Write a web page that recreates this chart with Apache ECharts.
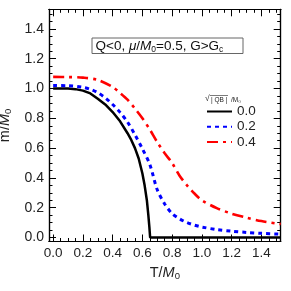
<!DOCTYPE html>
<html>
<head>
<meta charset="utf-8">
<script src="https://cdn.jsdelivr.net/npm/echarts@6/dist/echarts.min.js"></script>
<style>html,body{margin:0;padding:0;background:#fff}#c{width:291px;height:291px}</style>
</head>
<body>
<div id="c"></div>
<script>
// ---- data ----
const seriesNames = ['0.0', '0.2', '0.4'];
const blackT = [0, 0.1, 0.15, 0.2, 0.25, 0.3, 0.35, 0.4, 0.45, 0.5, 0.525, 0.55, 0.575, 0.6, 0.615, 0.63, 0.64, 0.647, 0.652, 0.7, 1.0, 1.53];
const blackM = [1.0, 1.0, 0.996, 0.986, 0.967, 0.932, 0.893, 0.842, 0.78, 0.70, 0.655, 0.6, 0.53, 0.43, 0.35, 0.25, 0.15, 0.07, 0, 0, 0, 0];
const blueT = [0, 0.1, 0.2, 0.25, 0.3, 0.35, 0.4, 0.45, 0.5, 0.55, 0.6, 0.65, 0.7, 0.75, 0.8, 0.85, 0.9, 0.95, 1.0, 1.1, 1.2, 1.3, 1.4, 1.53];
const blueM = [1.02, 1.019, 1.008, 0.995, 0.972, 0.938, 0.893, 0.84, 0.775, 0.69, 0.595, 0.49, 0.32, 0.225, 0.16, 0.125, 0.1, 0.083, 0.07, 0.053, 0.042, 0.034, 0.028, 0.022];
const redT = [0, 0.1, 0.2, 0.3, 0.4, 0.45, 0.5, 0.55, 0.6, 0.65, 0.7, 0.75, 0.8, 0.85, 0.9, 0.95, 1.0, 1.1, 1.2, 1.3, 1.4, 1.53];
const redM = [1.078, 1.077, 1.073, 1.058, 1.01, 0.97, 0.925, 0.865, 0.8, 0.725, 0.64, 0.565, 0.5, 0.415, 0.35, 0.295, 0.25, 0.197, 0.16, 0.133, 0.11, 0.09];
const xMajor = [0, 0.2, 0.4, 0.6, 0.8, 1.0, 1.2, 1.4];
const xMinor = [0.05, 0.1, 0.15, 0.25, 0.3, 0.35, 0.45, 0.5, 0.55, 0.65, 0.7, 0.75, 0.85, 0.9, 0.95, 1.05, 1.1, 1.15, 1.25, 1.3, 1.35, 1.45, 1.5];
const yMajor = [0, 0.2, 0.4, 0.6, 0.8, 1.0, 1.2, 1.4];
const yMinor = [0.05, 0.1, 0.15, 0.25, 0.3, 0.35, 0.45, 0.5, 0.55, 0.65, 0.7, 0.75, 0.85, 0.9, 0.95, 1.05, 1.1, 1.15, 1.25, 1.3, 1.35, 1.45, 1.5];
const annotation = '{n|Q<0, }{i|μ}{n|/}{i|M}{s|0}{n|=0.5, G>G}{s|c}';
// ---------------

const pair = (t, m) => t.map((v, i) => [v, m[i]]);
const FONT = 'Liberation Sans, Arial, sans-serif';
const XMIN = -0.028, XMAX = 1.53, YMIN = -0.027, YMAX = 1.532;

function mkX(pos, vals, len, labels, extra) {
  return Object.assign({
    type: 'value', position: pos, min: XMIN, max: XMAX,
    axisLine: {show: true, onZero: false, lineStyle: {color: '#000', width: 1.2}},
    axisTick: {show: true, inside: true, length: len, customValues: vals, lineStyle: {color: '#000', width: 1}},
    axisLabel: labels ? {show: true, customValues: vals, formatter: v => v.toFixed(1), color: '#222', fontSize: 13.5, fontFamily: FONT, margin: 5} : {show: false},
    splitLine: {show: false}
  }, extra || {});
}
function mkY(pos, vals, len, labels, extra) {
  return Object.assign({
    type: 'value', position: pos, min: YMIN, max: YMAX,
    axisLine: {show: true, onZero: false, lineStyle: {color: '#000', width: 1.2}},
    axisTick: {show: true, inside: true, length: len, customValues: vals, lineStyle: {color: '#000', width: 1}},
    axisLabel: labels ? {show: true, customValues: vals, formatter: v => v.toFixed(1), color: '#222', fontSize: 14, fontFamily: FONT, margin: 5} : {show: false},
    splitLine: {show: false}
  }, extra || {});
}
const nameRich = {
  n: {fontSize: 14.5, fontFamily: FONT, color: '#222'},
  i: {fontSize: 14.5, fontFamily: FONT, fontStyle: 'italic', color: '#222'},
  s: {fontSize: 9.5, fontFamily: FONT, color: '#222', padding: [7, 0, 0, 0]}
};

const chart = echarts.init(document.getElementById('c'), null, {renderer: 'canvas'});
chart.setOption({
  animation: false,
  backgroundColor: '#fff',
  grid: {left: 49, right: 10.3, top: 9.3, bottom: 49.5, containLabel: false, outerBoundsMode: 'none'},
  xAxis: [
    mkX('bottom', xMajor, 7, true, {name: '{n|T/}{i|M}{s|0}', nameLocation: 'middle', nameGap: 23, nameTextStyle: {rich: nameRich}}),
    mkX('bottom', xMinor, 3.5, false),
    mkX('top', xMajor, 7, false),
    mkX('top', xMinor, 3.5, false)
  ],
  yAxis: [
    mkY('left', yMajor, 7, true, {name: '{n|m/}{i|M}{s|0}', nameLocation: 'middle', nameGap: 25, nameRotate: 90, nameTextStyle: {rich: nameRich}}),
    mkY('left', yMinor, 3.5, false),
    mkY('right', yMajor, 7, false),
    mkY('right', yMinor, 3.5, false)
  ],
  legend: {
    orient: 'vertical', left: 201, top: 99.5, itemWidth: 25, itemHeight: 10, itemGap: 1.2,
    itemStyle: {opacity: 0},
    textStyle: {fontSize: 13.5, lineHeight: 10, fontFamily: FONT, color: '#222'},
    data: seriesNames
  },
  series: [
    {name: seriesNames[0], type: 'line', data: pair(blackT, blackM), symbol: 'none', smooth: false,
     lineStyle: {color: '#000', width: 2.5}, itemStyle: {color: '#000'}},
    {name: seriesNames[1], type: 'line', data: pair(blueT, blueM), symbol: 'none', smooth: 0.3,
     lineStyle: {color: '#0000ff', width: 3, type: [4, 4]}, itemStyle: {color: '#0000ff'}},
    {name: seriesNames[2], type: 'line', data: pair(redT, redM), symbol: 'none', smooth: 0.3,
     lineStyle: {color: '#ff0000', width: 2.6, type: [11, 5, 3, 5]}, itemStyle: {color: '#ff0000'}}
  ],
  graphic: [
    {type: 'rect', shape: {x: 92, y: 38, width: 151, height: 15.5}, style: {fill: '#fff', stroke: '#666', lineWidth: 1}, z: 10},
    {type: 'text', x: 95.5, y: 39, z: 11, style: {text: annotation, rich: {
      n: {fontSize: 13.5, fontFamily: FONT, fill: '#111'},
      i: {fontSize: 13.5, fontFamily: FONT, fontStyle: 'italic', fill: '#111'},
      s: {fontSize: 8.5, fontFamily: FONT, fill: '#111', padding: [6, 0, 0, 0]}
    }}},
    {type: 'text', x: 205, y: 94.5, z: 11, style: {text: '√', fontSize: 8.5, fontFamily: FONT, fill: '#222'}},
    {type: 'line', shape: {x1: 210, y1: 95.5, x2: 228, y2: 95.5}, style: {stroke: '#222', lineWidth: 0.6}, z: 11},
    {type: 'text', x: 211, y: 97, z: 11, style: {text: '| QB |  /M₀', fontSize: 6.5, fontFamily: FONT, fill: '#222'}}
  ]
});
</script>
</body>
</html>
